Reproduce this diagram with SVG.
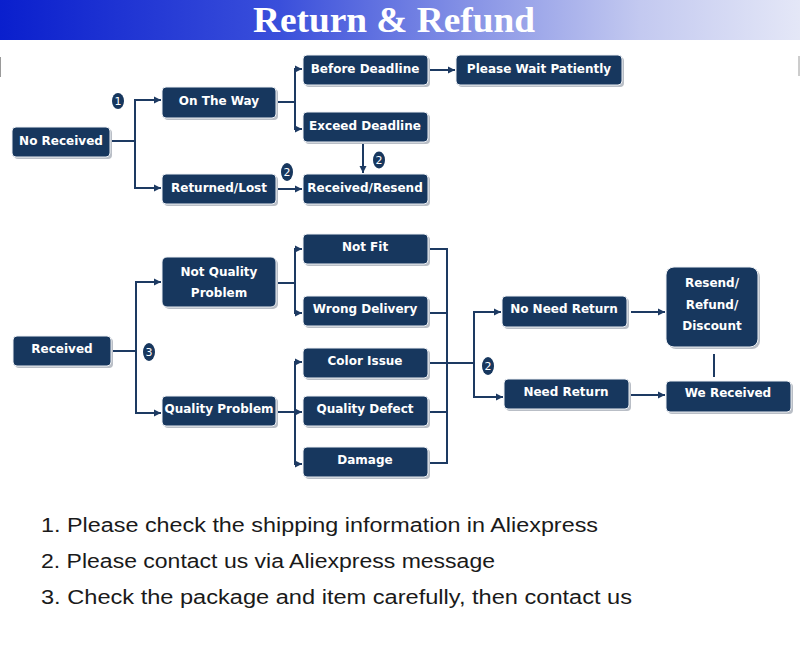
<svg xmlns="http://www.w3.org/2000/svg" width="800" height="650" viewBox="0 0 800 650">
<defs>
<linearGradient id="hdr" x1="0" y1="0" x2="1" y2="0">
<stop offset="0" stop-color="#0a1fcd"/>
<stop offset="0.35" stop-color="#3a4fdb"/>
<stop offset="0.6" stop-color="#8a96e6"/>
<stop offset="0.8" stop-color="#c3c9f0"/>
<stop offset="1" stop-color="#e4e7f7"/>
</linearGradient>
<marker id="arr" markerUnits="userSpaceOnUse" markerWidth="8" markerHeight="8" refX="7" refY="4" orient="auto">
<path d="M0,0.5 L7,4 L0,7.5 z" fill="#1d3a62"/>
</marker>
<style>
.sh{fill:#b9bec6}
.bx{fill:#17375e;stroke:#eef1f5;stroke-width:1}
.t{font-family:"DejaVu Sans",Verdana,sans-serif;font-weight:bold;font-size:12px;fill:#ffffff;text-anchor:middle}
.c{fill:none;stroke:#1d3a62;stroke-width:2}
.ca{fill:none;stroke:#1d3a62;stroke-width:2;marker-end:url(#arr)}
.bd{fill:#17375e}
.bt{font-family:"DejaVu Sans",Verdana,sans-serif;font-size:11px;fill:#ffffff;text-anchor:middle}
.n{font-family:"Liberation Sans",Arial,sans-serif;font-size:20px;fill:#1a1a1a}
</style>
</defs>
<rect width="800" height="650" fill="#ffffff"/>
<rect x="0" y="0" width="800" height="40" fill="url(#hdr)"/>
<text x="394" y="32" font-family="'Liberation Serif','Times New Roman',serif" font-weight="bold" font-size="36" fill="#ffffff" text-anchor="middle" textLength="282" lengthAdjust="spacingAndGlyphs">Return &amp; Refund</text>
<line x1="0.5" y1="57" x2="0.5" y2="77" stroke="#9a9a9a" stroke-width="1"/>
<line x1="799" y1="56" x2="799" y2="76" stroke="#9a9a9a" stroke-width="1"/>

<g id="connectors">
<path class="c" d="M110,141 H135"/>
<path class="ca" d="M135,141 V100 H161"/>
<path class="ca" d="M135,141 V188 H161"/>
<path class="c" d="M276,102 H295"/>
<path class="ca" d="M295,102 V69 H302"/>
<path class="ca" d="M295,102 V129 H302"/>
<path class="ca" d="M428,70 H455"/>
<path class="ca" d="M276,189 H302"/>
<path class="ca" d="M363,143 V173"/>
<path class="c" d="M111,351 H136"/>
<path class="ca" d="M136,351 V282 H161"/>
<path class="ca" d="M136,351 V413 H161"/>
<path class="c" d="M276,283 H295"/>
<path class="ca" d="M295,283 V249 H302"/>
<path class="ca" d="M295,283 V313 H302"/>
<path class="c" d="M276,412 H295"/>
<path class="ca" d="M295,412 V362 H302"/>
<path class="ca" d="M295,412 V464 H302"/>
<path class="ca" d="M295,412 H302"/>
<path class="c" d="M428,249 H447 M428,313 H447 M428,363 H447 M428,412 H447 M428,463 H447 M447,248 V464 M447,363 H474 M474,311 V398"/>
<path class="ca" d="M474,312 H501"/>
<path class="ca" d="M474,397 H503"/>
<path class="ca" d="M631,312 H665"/>
<path class="ca" d="M631,395 H665"/>
<path class="c" d="M714,354 V377"/>
</g>

<g id="badges">
<ellipse class="bd" cx="118" cy="101" rx="6" ry="8"/><text class="bt" x="118" y="105">1</text>
<ellipse class="bd" cx="287" cy="172" rx="6" ry="9"/><text class="bt" x="287" y="176">2</text>
<ellipse class="bd" cx="379" cy="160" rx="6" ry="8.5"/><text class="bt" x="379" y="164">2</text>
<ellipse class="bd" cx="149" cy="352" rx="6" ry="9"/><text class="bt" x="149" y="356">3</text>
<ellipse class="bd" cx="488" cy="366" rx="6" ry="9"/><text class="bt" x="488" y="370">2</text>
</g>

<g id="n-no-received"><rect class="sh" x="14" y="129" width="98" height="30" rx="4"/><rect class="bx" x="12" y="127" width="98" height="30" rx="4"/><text class="t" x="61" y="145">No Received</text></g>
<g id="n-on-the-way"><rect class="sh" x="164" y="89" width="114" height="31" rx="4"/><rect class="bx" x="162" y="87" width="114" height="31" rx="4"/><text class="t" x="219" y="105">On The Way</text></g>
<g id="n-returned-lost"><rect class="sh" x="164" y="176" width="114" height="30" rx="4"/><rect class="bx" x="162" y="174" width="114" height="30" rx="4"/><text class="t" x="219" y="192">Returned/Lost</text></g>
<g id="n-before-deadline"><rect class="sh" x="305" y="57" width="125" height="30" rx="4"/><rect class="bx" x="303" y="55" width="125" height="30" rx="4"/><text class="t" x="365" y="73">Before Deadline</text></g>
<g id="n-exceed-deadline"><rect class="sh" x="305" y="114" width="125" height="30" rx="4"/><rect class="bx" x="303" y="112" width="125" height="30" rx="4"/><text class="t" x="365" y="130">Exceed Deadline</text></g>
<g id="n-received-resend"><rect class="sh" x="305" y="176" width="125" height="30" rx="4"/><rect class="bx" x="303" y="174" width="125" height="30" rx="4"/><text class="t" x="365" y="192">Received/Resend</text></g>
<g id="n-please-wait"><rect class="sh" x="458" y="57" width="166" height="30" rx="4"/><rect class="bx" x="456" y="55" width="166" height="30" rx="4"/><text class="t" x="539" y="73">Please Wait Patiently</text></g>

<g id="n-received"><rect class="sh" x="15" y="338" width="98" height="30" rx="4"/><rect class="bx" x="13" y="336" width="98" height="30" rx="4"/><text class="t" x="62" y="353">Received</text></g>
<g id="n-not-quality"><rect class="sh" x="164" y="259" width="114" height="50" rx="5"/><rect class="bx" x="162" y="257" width="114" height="50" rx="5"/><text class="t" x="219" y="276">Not Quality</text><text class="t" x="219" y="297">Problem</text></g>
<g id="n-quality-problem"><rect class="sh" x="164" y="398" width="114" height="30" rx="4"/><rect class="bx" x="162" y="396" width="114" height="30" rx="4"/><text class="t" x="219" y="413">Quality Problem</text></g>
<g id="n-not-fit"><rect class="sh" x="305" y="236" width="125" height="30" rx="4"/><rect class="bx" x="303" y="234" width="125" height="30" rx="4"/><text class="t" x="365" y="251">Not Fit</text></g>
<g id="n-wrong-delivery"><rect class="sh" x="305" y="298" width="125" height="30" rx="4"/><rect class="bx" x="303" y="296" width="125" height="30" rx="4"/><text class="t" x="365" y="313">Wrong Delivery</text></g>
<g id="n-color-issue"><rect class="sh" x="305" y="350" width="125" height="30" rx="4"/><rect class="bx" x="303" y="348" width="125" height="30" rx="4"/><text class="t" x="365" y="365">Color Issue</text></g>
<g id="n-quality-defect"><rect class="sh" x="305" y="398" width="125" height="30" rx="4"/><rect class="bx" x="303" y="396" width="125" height="30" rx="4"/><text class="t" x="365" y="413">Quality Defect</text></g>
<g id="n-damage"><rect class="sh" x="305" y="449" width="125" height="30" rx="4"/><rect class="bx" x="303" y="447" width="125" height="30" rx="4"/><text class="t" x="365" y="464">Damage</text></g>
<g id="n-no-need-return"><rect class="sh" x="504" y="298" width="125" height="31" rx="4"/><rect class="bx" x="502" y="296" width="125" height="31" rx="4"/><text class="t" x="564" y="313">No Need Return</text></g>
<g id="n-need-return"><rect class="sh" x="506" y="381" width="125" height="30" rx="4"/><rect class="bx" x="504" y="379" width="125" height="30" rx="4"/><text class="t" x="566" y="396">Need Return</text></g>
<g id="n-resend-refund"><rect class="sh" x="668" y="269" width="92" height="80" rx="8"/><rect class="bx" x="666" y="267" width="92" height="80" rx="8"/><text class="t" x="712" y="287">Resend/</text><text class="t" x="712" y="309">Refund/</text><text class="t" x="712" y="330">Discount</text></g>
<g id="n-we-received"><rect class="sh" x="668" y="383" width="125" height="31" rx="4"/><rect class="bx" x="666" y="381" width="125" height="31" rx="4"/><text class="t" x="728" y="397">We Received</text></g>

<g id="notes">
<text class="n" x="41" y="532" textLength="557" lengthAdjust="spacingAndGlyphs">1. Please check the shipping information in Aliexpress</text>
<text class="n" x="41" y="568" textLength="454" lengthAdjust="spacingAndGlyphs">2. Please contact us via Aliexpress message</text>
<text class="n" x="41" y="604" textLength="591" lengthAdjust="spacingAndGlyphs">3. Check the package and item carefully, then contact us</text>
</g>
</svg>
